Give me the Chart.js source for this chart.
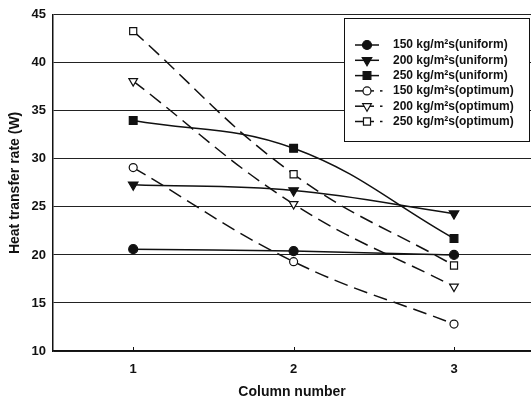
<!DOCTYPE html>
<html><head><meta charset="utf-8">
<script src="https://cdn.jsdelivr.net/npm/chart.js@4/dist/chart.umd.min.js"></script>
<style>html,body{margin:0;padding:0;background:#fff}</style>
</head><body>
<canvas id="c" width="531" height="401"></canvas>
<script>
// ---- data ----
const columns = [1, 2, 3];
const seriesLabels = [
  '150 kg/m\u00B2s(uniform)', '200 kg/m\u00B2s(uniform)', '250 kg/m\u00B2s(uniform)',
  '150 kg/m\u00B2s(optimum)', '200 kg/m\u00B2s(optimum)', '250 kg/m\u00B2s(optimum)'
];
const uniform150 = [20.6, 20.4, 20.0];
const uniform200 = [27.3, 26.7, 24.3];
const uniform250 = [34.0, 31.1, 21.7];
const optimum150 = [29.1, 19.3, 12.8];
const optimum200 = [38.1, 25.3, 16.7];
const optimum250 = [43.3, 28.4, 18.9];
const yTicks = [10, 15, 20, 25, 30, 35, 40, 45];
const xTitle = 'Column number';
const yTitle = 'Heat transfer rate (W)';

// ---- styling ----
const INK = '#111';
const FONT = "'Liberation Sans', Arial, sans-serif";
const seriesValues = [uniform150, uniform200, uniform250, optimum150, optimum200, optimum250];
const styles = [
  {pointStyle: 'circle', rot: 0, r: 4.5, fill: INK, dash: []},
  {pointStyle: 'triangle', rot: 180, r: 5.5, fill: INK, dash: []},
  {pointStyle: 'rect', rot: 0, r: 5.5, fill: INK, dash: []},
  {pointStyle: 'circle', rot: 0, r: 4, fill: '#fff', dash: [14, 7]},
  {pointStyle: 'triangle', rot: 180, r: 5, fill: '#fff', dash: [14, 7]},
  {pointStyle: 'rect', rot: 0, r: 5, fill: '#fff', dash: [14, 7]}
];

const datasets = seriesValues.map((vals, i) => ({
  label: seriesLabels[i],
  data: columns.map((c, j) => ({x: c, y: vals[j]})),
  borderColor: INK,
  borderWidth: 1.5,
  borderDash: styles[i].dash,
  tension: 0.4,
  pointStyle: styles[i].pointStyle,
  pointRotation: styles[i].rot,
  pointRadius: styles[i].r,
  pointBackgroundColor: styles[i].fill,
  pointBorderColor: INK,
  pointBorderWidth: 1.2,
  fill: false
}));

function drawMarker(ctx, st, x, y) {
  const r = st.r;
  ctx.beginPath();
  if (st.pointStyle === 'circle') {
    ctx.arc(x, y, r, 0, Math.PI * 2);
  } else if (st.pointStyle === 'rect') {
    const s = r * Math.SQRT2 / 2;
    ctx.rect(x - s, y - s, 2 * s, 2 * s);
  } else {
    const a = st.rot * Math.PI / 180;
    for (let k = 0; k < 3; k++) {
      const ang = a - Math.PI / 2 + k * 2 * Math.PI / 3;
      const px = x + r * Math.cos(ang), py = y + r * Math.sin(ang);
      if (k === 0) ctx.moveTo(px, py); else ctx.lineTo(px, py);
    }
    ctx.closePath();
  }
  ctx.fillStyle = st.fill;
  ctx.fill();
  ctx.lineWidth = 1.2;
  ctx.strokeStyle = INK;
  ctx.stroke();
}

const boxLegend = {
  id: 'boxLegend',
  afterDraw(chart) {
    const ctx = chart.ctx;
    ctx.save();
    ctx.fillStyle = '#fff';
    ctx.fillRect(344, 18, 186, 124);
    ctx.strokeStyle = INK;
    ctx.lineWidth = 1;
    ctx.strokeRect(344.5, 18.5, 185, 123);
    chart.data.datasets.forEach((ds, i) => {
      const st = styles[i];
      const y = 45 + i * 15.3;
      ctx.strokeStyle = INK;
      ctx.lineWidth = 1.5;
      ctx.setLineDash([]);
      ctx.beginPath();
      if (st.dash.length) {
        ctx.moveTo(355, y); ctx.lineTo(374, y);
        ctx.stroke();
        ctx.beginPath();
        ctx.moveTo(380, y); ctx.lineTo(382.5, y);
      } else {
        ctx.moveTo(355, y); ctx.lineTo(379, y);
      }
      ctx.stroke();
      drawMarker(ctx, st, 367, y);
      ctx.fillStyle = INK;
      ctx.font = 'bold 12px ' + FONT;
      ctx.textBaseline = 'middle';
      ctx.textAlign = 'left';
      ctx.fillText(ds.label, 393, y);
    });
    ctx.restore();
  }
};

// small inward tick marks on the x axis
const innerTicks = {
  id: 'innerTicks',
  afterDatasetsDraw(chart) {
    const ctx = chart.ctx, xs = chart.scales.x, bottom = chart.chartArea.bottom;
    ctx.save();
    ctx.strokeStyle = INK; ctx.lineWidth = 1;
    xs.ticks.forEach(t => {
      const px = Math.round(xs.getPixelForValue(t.value)) + 0.5;
      ctx.beginPath(); ctx.moveTo(px, bottom); ctx.lineTo(px, bottom - 4); ctx.stroke();
    });
    ctx.restore();
  }
};

new Chart(document.getElementById('c'), {
  type: 'line',
  data: {datasets},
  plugins: [innerTicks, boxLegend],
  options: {
    responsive: false,
    animation: false,
    devicePixelRatio: 1,
    layout: {autoPadding: false, padding: {top: 13, right: 0, bottom: 0, left: 0}},
    plugins: {legend: {display: false}, tooltip: {enabled: false}},
    scales: {
      x: {
        type: 'linear', min: 0.5, max: 3.48,
        afterBuildTicks: s => { s.ticks = columns.map(v => ({value: v})); },
        afterFit: s => { s.height = 50; },
        grid: {display: false},
        border: {display: true, color: INK, width: 1.5},
        ticks: {color: INK, font: {family: FONT, size: 13, weight: 'bold'}, padding: 3,
          maxRotation: 0, callback: v => String(v)},
        title: {display: true, text: xTitle, color: INK,
          font: {family: FONT, size: 14, weight: 'bold'}, padding: {top: 0, bottom: 0}}
      },
      y: {
        type: 'linear', min: 10, max: 45,
        afterBuildTicks: s => { s.ticks = yTicks.map(v => ({value: v})); },
        afterFit: s => { s.width = 53; },
        grid: {color: '#222', lineWidth: 1, drawTicks: false},
        border: {display: true, color: INK, width: 1.5},
        ticks: {color: INK, font: {family: FONT, size: 13, weight: 'bold'}, padding: 7},
        title: {display: true, text: yTitle, color: INK,
          font: {family: FONT, size: 14, weight: 'bold'}, padding: {top: 7, bottom: 0}}
      }
    }
  }
});
</script>
</body></html>
